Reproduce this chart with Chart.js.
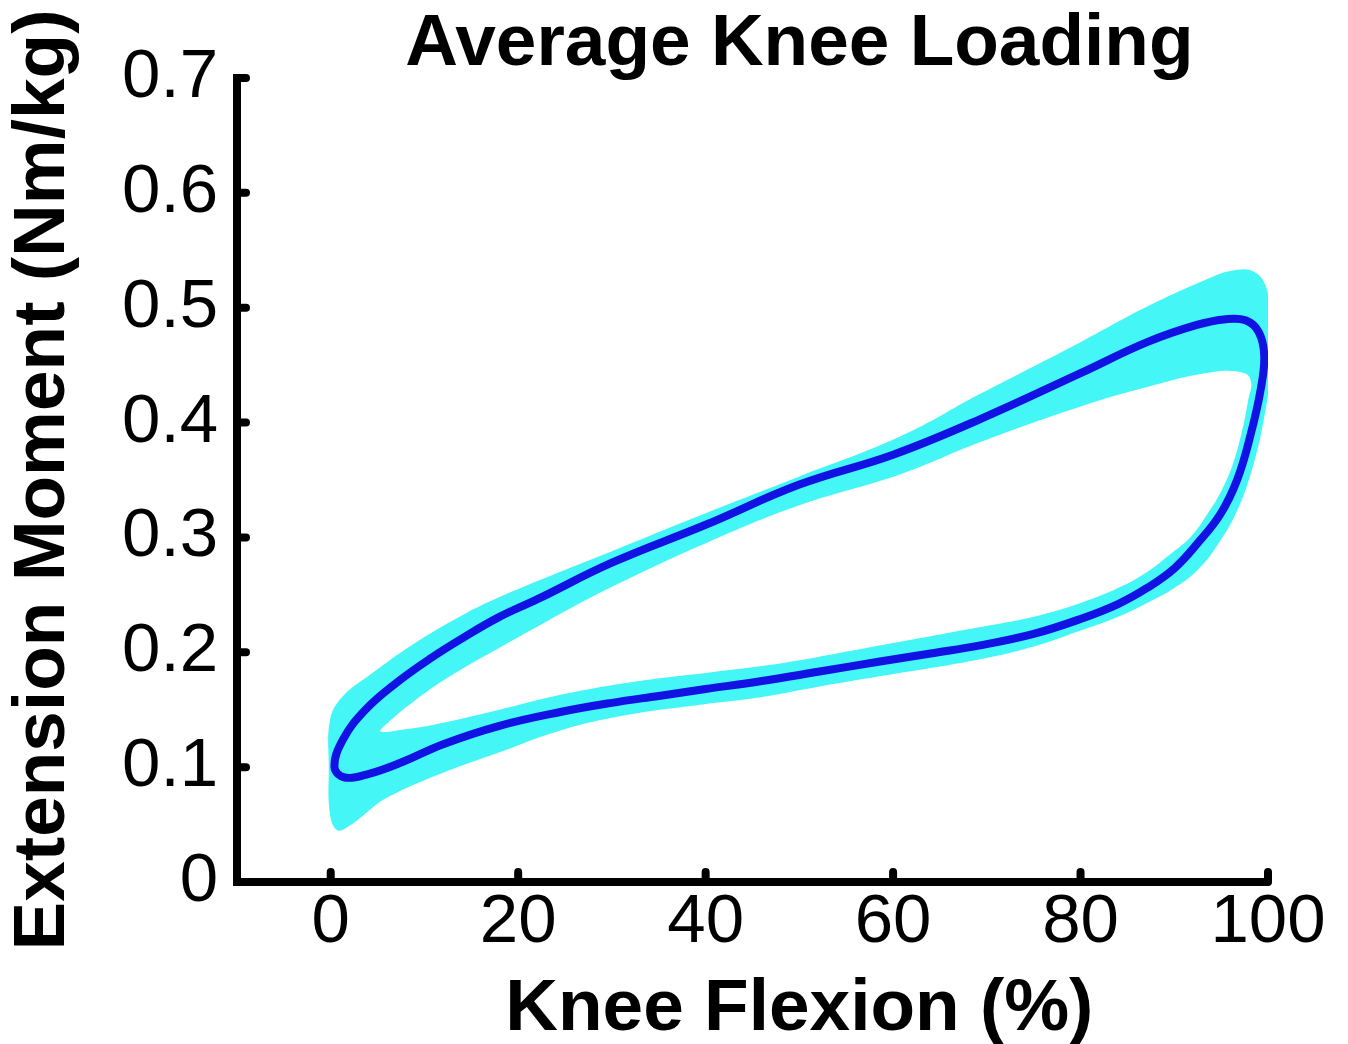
<!DOCTYPE html>
<html>
<head>
<meta charset="utf-8">
<title>Average Knee Loading</title>
<script src="https://cdn.jsdelivr.net/npm/chart.js@4.4.1/dist/chart.umd.min.js"></script>
<style>
  html, body { margin: 0; padding: 0; background: #fff; }
  #wrap { position: relative; width: 1348px; height: 1044px; }
</style>
</head>
<body>
<div id="wrap"><canvas id="knee" width="1348" height="1044"></canvas></div>
<script>
'use strict';

const TITLE = 'Average Knee Loading';
const X_LABEL = 'Knee Flexion (%)';
const Y_LABEL = 'Extension Moment (Nm/kg)';

const xTicks = [0, 20, 40, 60, 80, 100];
const yTicks = [0, 0.1, 0.2, 0.3, 0.4, 0.5, 0.6, 0.7];
const yTickLabels = ['0', '0.1', '0.2', '0.3', '0.4', '0.5', '0.6', '0.7'];

// mean moment vs flexion, one loop [flexion %, Nm/kg]
const meanLoop = [
  [40, 0.168], [46, 0.175], [52, 0.183], [58.6, 0.192], [64, 0.199], [69.3, 0.206],
  [75, 0.216], [80, 0.229], [84, 0.242], [87.1, 0.256], [90, 0.273], [92.5, 0.295],
  [94.9, 0.320], [96.7, 0.350], [98.1, 0.388], [99.2, 0.428], [99.6, 0.458], [99.0, 0.479],
  [97.6, 0.489], [95.5, 0.490], [92.4, 0.485], [87.1, 0.470], [80, 0.443], [69.3, 0.403],
  [60, 0.372], [50, 0.346], [40, 0.311], [30, 0.278], [22, 0.246], [17.8, 0.230],
  [14.2, 0.213], [10.7, 0.195], [7.1, 0.174], [3.7, 0.150], [1.3, 0.124], [0.4, 0.100],
  [1.5, 0.091], [4, 0.094], [7.5, 0.104], [12, 0.120], [18, 0.136], [24.5, 0.148],
  [30, 0.156], [35, 0.162], [40, 0.168],
];

// outer edge of the +/- SD band
const sdOuter = [
  [40, 0.155], [46, 0.161], [52, 0.170], [60, 0.181], [69.3, 0.194], [75, 0.205],
  [80, 0.219], [84, 0.231], [87.1, 0.243], [90, 0.256], [92.4, 0.271], [94.5, 0.292],
  [96.8, 0.325], [98.5, 0.365], [99.6, 0.405], [100.2, 0.440], [100.3, 0.490], [99.7, 0.520],
  [98.3, 0.532], [96, 0.532], [94.1, 0.527], [87.1, 0.501], [80, 0.470], [69.3, 0.425],
  [60.8, 0.388], [50, 0.353], [40, 0.321], [30, 0.288], [20, 0.255], [14.2, 0.233],
  [8.8, 0.207], [4.3, 0.181], [1.1, 0.160], [-0.1, 0.140], [-0.2, 0.100], [-0.1, 0.060],
  [0.7, 0.045], [2.2, 0.050], [3.9, 0.061], [5.7, 0.072], [11, 0.092], [18, 0.113],
  [24.5, 0.132], [32, 0.146], [40, 0.155],
];

// inner edge of the band (the hole of the loop)
const sdInner = [
  [40, 0.182], [46, 0.188], [52, 0.196], [60, 0.208], [69.3, 0.222], [75, 0.231],
  [80, 0.243], [84, 0.256], [87.1, 0.270], [89.5, 0.285], [91.7, 0.300], [93.5, 0.320],
  [95, 0.340], [96.3, 0.365], [97.3, 0.395], [97.9, 0.420], [98.2, 0.435], [97.5, 0.443],
  [94.1, 0.444], [87.1, 0.431], [80, 0.414], [69.3, 0.383], [60.8, 0.355], [50, 0.328],
  [40, 0.295], [30, 0.257], [23.5, 0.229], [17.8, 0.203], [12.5, 0.178], [8.8, 0.157],
  [6.0, 0.138], [5.3, 0.131], [8, 0.133], [11, 0.137], [18, 0.150], [24.5, 0.163],
  [32, 0.174], [40, 0.182],
];

const CYAN = '#44f6f6';
const BLUE = '#1212e2';
const FONT = "'Liberation Sans', Arial, Helvetica, sans-serif";

const pts = (arr) => arr.map(([x, y]) => ({ x, y }));

// matlab style ticks pointing into the plot
const inTicks = {
  id: 'inTicks',
  afterDatasetsDraw(chart) {
    const { ctx, chartArea: a } = chart;
    const xs = chart.scales.x, ys = chart.scales.y;
    ctx.save();
    ctx.strokeStyle = '#000';
    ctx.lineWidth = 8;
    ctx.lineCap = 'round';
    ctx.beginPath();
    yTicks.slice(1).forEach((v) => {
      const y = ys.getPixelForValue(v);
      ctx.moveTo(a.left, y);
      ctx.lineTo(a.left + 9, y);
    });
    xTicks.forEach((v) => {
      const x = xs.getPixelForValue(v);
      ctx.moveTo(x, a.bottom);
      ctx.lineTo(x, a.bottom - 10);
    });
    ctx.stroke();
    ctx.restore();
  },
};

// title and x label are centred on the 0..100 range, not on the axis box
const centredText = {
  id: 'centredText',
  afterDraw(chart) {
    const { ctx, chartArea: a } = chart;
    const cx = chart.scales.x.getPixelForValue(50);
    ctx.save();
    ctx.fillStyle = '#000';
    ctx.textAlign = 'center';
    ctx.textBaseline = 'alphabetic';
    ctx.font = 'bold 73px ' + FONT;
    ctx.fillText(TITLE, cx, a.top - 13);
    ctx.fillText(X_LABEL, cx, a.bottom + 148);
    ctx.restore();
  },
};

new Chart(document.getElementById('knee'), {
  type: 'scatter',
  data: {
    datasets: [
      { label: 'Mean', data: pts(meanLoop), showLine: true, borderColor: BLUE, borderWidth: 8, tension: 0.4, pointRadius: 0, fill: false, order: 1 },
      { label: 'SD inner', data: pts(sdInner), showLine: true, borderWidth: 0, borderColor: 'rgba(0,0,0,0)', backgroundColor: '#fff', tension: 0.4, pointRadius: 0, fill: 'shape', order: 2 },
      { label: 'SD outer', data: pts(sdOuter), showLine: true, borderWidth: 0, borderColor: 'rgba(0,0,0,0)', backgroundColor: CYAN, tension: 0.4, pointRadius: 0, fill: 'shape', order: 3 },
    ],
  },
  options: {
    responsive: false,
    animation: false,
    devicePixelRatio: 1,
    layout: { padding: { top: 78, right: 80, bottom: 0, left: 0 } },
    plugins: { legend: { display: false }, tooltip: { enabled: false }, title: { display: false } },
    events: [],
    scales: {
      x: {
        type: 'linear',
        min: -10,
        max: 100,
        afterBuildTicks: (s) => { s.ticks = xTicks.map((v) => ({ value: v })); },
        afterFit: (s) => { s.height = 162; },
        grid: { display: false, drawTicks: false },
        border: { display: true, color: '#000', width: 8 },
        ticks: { color: '#000', padding: 0, maxRotation: 0, autoSkip: false, font: { family: FONT, size: 69 } },
      },
      y: {
        type: 'linear',
        min: 0,
        max: 0.7,
        afterBuildTicks: (s) => { s.ticks = yTicks.map((v) => ({ value: v })); },
        afterFit: (s) => { s.width = 237; },
        grid: { display: false, drawTicks: false },
        border: { display: true, color: '#000', width: 8 },
        ticks: { color: '#000', padding: 19, autoSkip: false, font: { family: FONT, size: 69 }, callback: (v, i) => yTickLabels[i] },
        title: { display: true, text: Y_LABEL, color: '#000', padding: 0, font: { family: FONT, size: 73, weight: 'bold', lineHeight: 1.2 } },
      },
    },
  },
  plugins: [inTicks, centredText],
});
</script>
</body>
</html>
